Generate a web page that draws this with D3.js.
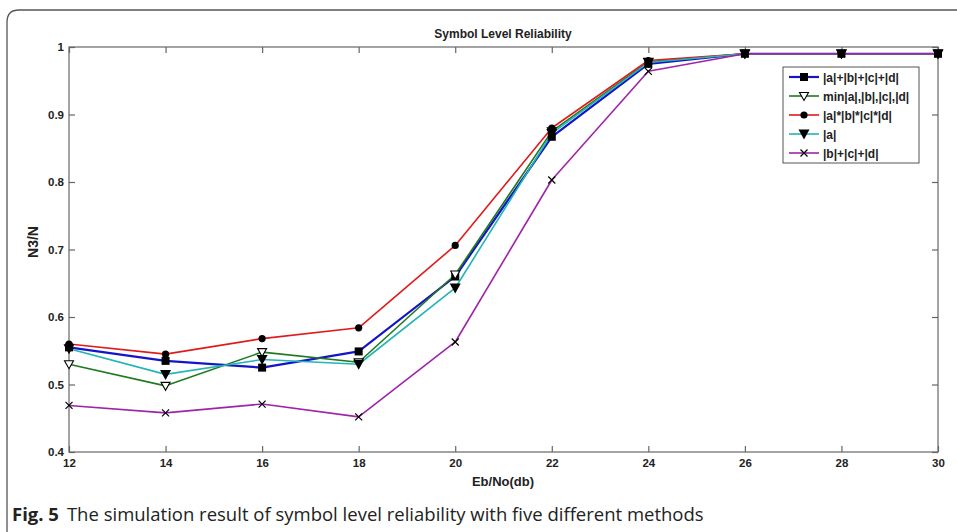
<!DOCTYPE html>
<html><head><meta charset="utf-8">
<script src="https://cdn.jsdelivr.net/npm/d3@7"></script>
<style>body{margin:0;background:#fff}svg{display:block}</style>
</head><body>
<script>
const xValues = [12, 14, 16, 18, 20, 22, 24, 26, 28, 30];
const seriesNames = ["|a|+|b|+|c|+|d|", "min|a|,|b|,|c|,|d|", "|a|*|b|*|c|*|d|", "|a|", "|b|+|c|+|d|"];
const sumAll   = [0.555, 0.535, 0.525, 0.549, 0.660, 0.867, 0.975, 0.990, 0.990, 0.990];
const minAll   = [0.530, 0.498, 0.548, 0.533, 0.663, 0.875, 0.978, 0.990, 0.990, 0.990];
const prodAll  = [0.560, 0.545, 0.568, 0.584, 0.706, 0.880, 0.980, 0.990, 0.990, 0.990];
const absA     = [0.553, 0.515, 0.537, 0.530, 0.643, 0.872, 0.977, 0.990, 0.990, 0.990];
const sumBCD   = [0.469, 0.458, 0.471, 0.452, 0.563, 0.803, 0.964, 0.990, 0.990, 0.990];
const yTicks = [0.4, 0.5, 0.6, 0.7, 0.8, 0.9, 1];
const xTicks = [12, 14, 16, 18, 20, 22, 24, 26, 28, 30];

const seriesData = [sumAll, minAll, prodAll, absA, sumBCD];
const colors = ["#1414c8", "#1f7a1f", "#e01b1b", "#22b5b5", "#a024a8"];
const widths = [2.2, 1.6, 1.6, 1.6, 1.6];
const markers = ["square", "triOpen", "circle", "triFill", "cross"];

const W = 957, H = 532;
const svg = d3.select("body").append("svg").attr("width", W).attr("height", H);

// card border
svg.append("path")
  .attr("d", "M 7 532 L 7 22 Q 7 10 19 10 L 960 10")
  .attr("fill", "none").attr("stroke", "#555").attr("stroke-width", 1.3);

const m = {l: 69, r: 938, t: 47, b: 452};
const x = d3.scaleLinear().domain([12, 30]).range([m.l, m.r]);
const y = d3.scaleLinear().domain([0.4, 1]).range([m.b, m.t]);

const g = svg.append("g");
const axisColor = "#666";
const tickFont = "bold 11.5px 'Liberation Sans', Arial, sans-serif";

// plot frame
g.append("rect").attr("x", m.l).attr("y", m.t).attr("width", m.r - m.l).attr("height", m.b - m.t)
  .attr("fill", "none").attr("stroke", axisColor).attr("stroke-width", 1.2);

// axes with inward ticks
const xAxis = d3.axisBottom(x).tickValues(xTicks).tickSize(-6).tickPadding(9).tickFormat(d3.format("d"));
const gx = g.append("g").attr("transform", `translate(0,${m.b})`).call(xAxis);
const xAxisTop = d3.axisTop(x).tickValues(xTicks).tickSize(-6).tickFormat("");
const gxt = g.append("g").attr("transform", `translate(0,${m.t})`).call(xAxisTop);
const yAxis = d3.axisLeft(y).tickValues(yTicks).tickSize(-6).tickPadding(5).tickFormat(d => d === 1 ? "1" : d3.format(".1f")(d));
const gy = g.append("g").attr("transform", `translate(${m.l},0)`).call(yAxis);
const yAxisR = d3.axisRight(y).tickValues(yTicks).tickSize(-6).tickFormat("");
const gyr = g.append("g").attr("transform", `translate(${m.r},0)`).call(yAxisR);
[gx, gxt, gy, gyr].forEach(a => {
  a.select(".domain").remove();
  a.selectAll(".tick line").attr("stroke", axisColor).attr("stroke-width", 1.2);
  a.selectAll(".tick text").style("font", tickFont).attr("fill", "#222");
});
gx.selectAll(".tick text").attr("dy", "0.5em");

// lines
const line = d3.line().x((d, i) => x(xValues[i])).y(d => y(d));
seriesData.forEach((s, k) => {
  g.append("path").datum(s).attr("d", line).attr("fill", "none")
    .attr("stroke", colors[k]).attr("stroke-width", widths[k]).attr("stroke-linejoin", "round");
});

function drawMarker(sel, type, cx, cy) {
  if (type === "square") {
    sel.append("rect").attr("x", cx - 4).attr("y", cy - 4).attr("width", 8).attr("height", 8).attr("fill", "#000");
  } else if (type === "triOpen") {
    sel.append("path").attr("d", `M ${cx-4.5} ${cy-3.5} L ${cx+4.5} ${cy-3.5} L ${cx} ${cy+4.5} Z`)
      .attr("fill", "#fff").attr("stroke", "#000").attr("stroke-width", 1.1);
  } else if (type === "circle") {
    sel.append("circle").attr("cx", cx).attr("cy", cy).attr("r", 3.6).attr("fill", "#000");
  } else if (type === "triFill") {
    sel.append("path").attr("d", `M ${cx-5.5} ${cy-4.5} L ${cx+5.5} ${cy-4.5} L ${cx} ${cy+5.5} Z`).attr("fill", "#000");
  } else if (type === "cross") {
    sel.append("path").attr("d", `M ${cx-3.5} ${cy-3.5} L ${cx+3.5} ${cy+3.5} M ${cx-3.5} ${cy+3.5} L ${cx+3.5} ${cy-3.5}`)
      .attr("stroke", "#000").attr("stroke-width", 1.2);
  }
}
seriesData.forEach((s, k) => {
  const mg = g.append("g");
  s.forEach((v, i) => drawMarker(mg, markers[k], x(xValues[i]), y(v)));
});

// title and labels
const labFont = "bold 12px 'Liberation Sans', Arial, sans-serif";
svg.append("text").attr("x", 503).attr("y", 38).attr("text-anchor", "middle").style("font", labFont).attr("fill", "#222").text("Symbol Level Reliability");
svg.append("text").attr("x", 503).attr("y", 486).attr("text-anchor", "middle").style("font", "bold 13px 'Liberation Sans', Arial, sans-serif").attr("fill", "#222").text("Eb/No(db)");
svg.append("text").attr("transform", "translate(38,242) rotate(-90)").attr("text-anchor", "middle").style("font", "bold 14px 'Liberation Sans', Arial, sans-serif").attr("fill", "#222").text("N3/N");

// legend
const lg = svg.append("g").attr("transform", "translate(783,67)");
lg.append("rect").attr("width", 136).attr("height", 96).attr("fill", "#fff").attr("stroke", "#555").attr("stroke-width", 1);
seriesNames.forEach((name, k) => {
  const ly = 10 + k * 19;
  lg.append("line").attr("x1", 6).attr("x2", 36).attr("y1", ly).attr("y2", ly).attr("stroke", colors[k]).attr("stroke-width", widths[k]);
  drawMarker(lg, markers[k], 21, ly);
  lg.append("text").attr("x", 40).attr("y", ly + 4.5).style("font", "bold 12px 'Liberation Sans', Arial, sans-serif").attr("fill", "#222").text(name);
});

// caption
const cap = svg.append("text").attr("x", 12).attr("y", 521).style("font-family", "'Open Sans', 'Noto Sans', sans-serif").style("font-size", "18.5px").attr("fill", "#222");
cap.append("tspan").style("font-weight", "bold").text("Fig. 5");
cap.append("tspan").attr("dx", 8).text("The simulation result of symbol level reliability with five different methods");
</script>
</body></html>
